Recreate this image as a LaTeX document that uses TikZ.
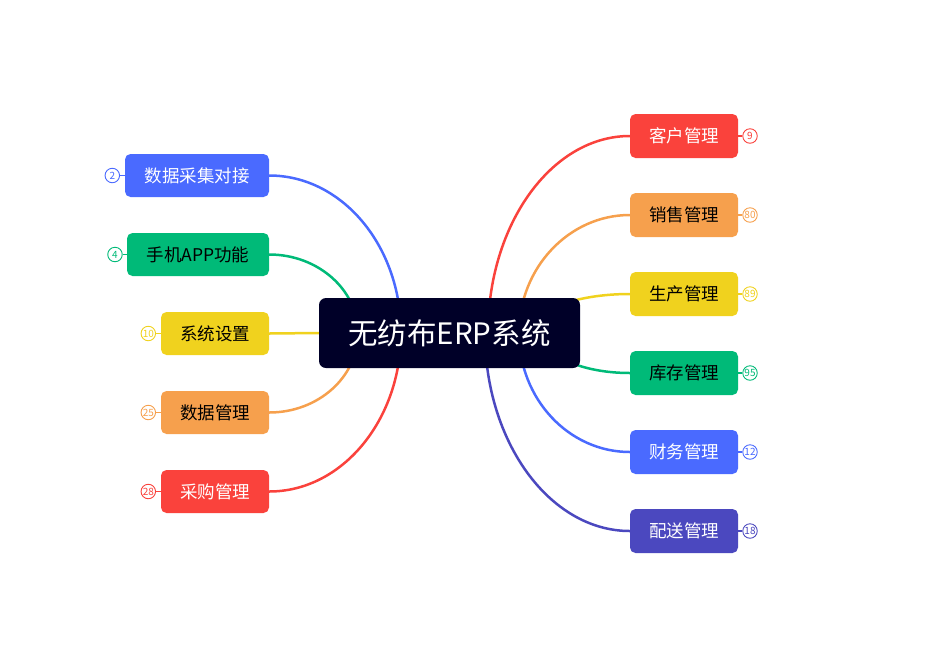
\documentclass[tikz,border=0pt]{standalone}
\usepackage{fontspec}
\setmainfont{Noto Sans CJK SC}
\definecolor{cred}{HTML}{FA423C}
\definecolor{corange}{HTML}{F6A04D}
\definecolor{cyellow}{HTML}{F0D21E}
\definecolor{cgreen}{HTML}{00BA78}
\definecolor{cblue}{HTML}{4A6AFF}
\definecolor{cpurple}{HTML}{4B48BF}
\definecolor{cnavy}{HTML}{000028}
\tikzset{
  topic/.style={rectangle, rounded corners=5.5pt, minimum height=44pt, inner sep=0pt,
    font=\fontsize{17.5}{19}\selectfont},
  rtopic/.style={topic, minimum width=108pt},
  central/.style={rectangle, rounded corners=7pt, fill=cnavy, text=white, minimum width=261pt,
    minimum height=70pt, inner sep=0pt, font=\fontsize{29.5}{32}\selectfont},
  link/.style={line width=2.5pt},
  badge/.style={circle, draw, fill=white, line width=0.9pt, minimum size=14.5pt, inner sep=0pt,
    font=\fontsize{10}{10}\selectfont},
  stub/.style={line width=1.6pt}
}
\begin{document}
\begin{tikzpicture}[x=1pt, y=-1pt]
\useasboundingbox (0,0) rectangle (944,646);
% start coordinates (hidden below the central node)
\coordinate (sr1) at (488,333);
\coordinate (sr2) at (519,333);
\coordinate (sr3) at (530,333);
\coordinate (sr4) at (542,333);
\coordinate (sr5) at (519,333);
\coordinate (sr6) at (485,333);
\coordinate (sl1) at (401,333);
\coordinate (sl2) at (358,333);
\coordinate (sl4) at (358,333);
\coordinate (sl5) at (401,333);
% right topics
\node[rtopic, fill=cred, text=white] (r1) at (684,136) {客户管理};
\node[rtopic, fill=corange, text=black] (r2) at (684,215) {销售管理};
\node[rtopic, fill=cyellow, text=black] (r3) at (684,294) {生产管理};
\node[rtopic, fill=cgreen, text=black] (r4) at (684,373) {库存管理};
\node[rtopic, fill=cblue, text=white] (r5) at (684,452) {财务管理};
\node[rtopic, fill=cpurple, text=white] (r6) at (684,531) {配送管理};
% left topics
\node[topic, minimum width=144pt, minimum height=43pt, fill=cblue, text=white] (l1) at (197,175.5) {数据采集对接};
\node[topic, minimum width=142pt, minimum height=43pt, fill=cgreen, text=black] (l2) at (198,254.5) {手机APP功能};
\node[rtopic, minimum height=43pt, fill=cyellow, text=black] (l3) at (215,333.5) {系统设置};
\node[rtopic, minimum height=43pt, fill=corange, text=black] (l4) at (215,412.5) {数据管理};
\node[rtopic, minimum height=43pt, fill=cred, text=white] (l5) at (215,491.5) {采购管理};
% connectors right
\draw[link, cred] (sr1) .. controls +(0,-109) and +(-78,0) .. (r1.west);
\draw[link, corange] (sr2) .. controls +(0,-65) and +(-61,0) .. (r2.west);
\draw[link, cyellow] (sr3) .. controls +(0,-22) and +(-55,0) .. (r3.west);
\draw[link, cgreen] (sr4) .. controls +(0,22) and +(-49,0) .. (r4.west);
\draw[link, cblue] (sr5) .. controls +(0,66) and +(-61,0) .. (r5.west);
\draw[link, cpurple] (sr6) .. controls +(0,109) and +(-80,0) .. (r6.west);
% connectors left
\draw[link, cblue] (sl1) .. controls +(0,-87) and +(73,0) .. (l1.east);
\draw[link, cgreen] (sl2) .. controls +(0,-43) and +(49,0) .. (l2.east);
\draw[link, corange] (sl4) .. controls +(0,44) and +(49,0) .. (l4.east);
\draw[link, cred] (sl5) .. controls +(0,87) and +(73,0) .. (l5.east);
% central topic
\node[central] (c) at (449.5,333) {无纺布ERP系统};
\draw[link, cyellow] (c.west) -- (l3.east);
% badges right
\node[badge, draw=cred, text=cred] (b1) at (750,136) {9};
\node[badge, draw=corange, text=corange] (b2) at (750,215) {80};
\node[badge, draw=cyellow, text=cyellow] (b3) at (750,294) {89};
\node[badge, draw=cgreen, text=cgreen] (b4) at (750,373) {95};
\node[badge, draw=cblue, text=cblue] (b5) at (750,452) {12};
\node[badge, draw=cpurple, text=cpurple] (b6) at (750,531) {18};
\draw[stub, cred] (r1.east) -- (b1);
\draw[stub, corange] (r2.east) -- (b2);
\draw[stub, cyellow] (r3.east) -- (b3);
\draw[stub, cgreen] (r4.east) -- (b4);
\draw[stub, cblue] (r5.east) -- (b5);
\draw[stub, cpurple] (r6.east) -- (b6);
% badges left
\node[badge, draw=cblue, text=cblue] (d1) at (112.3,175.5) {2};
\node[badge, draw=cgreen, text=cgreen] (d2) at (115,254.5) {4};
\node[badge, draw=cyellow, text=cyellow] (d3) at (148.3,333.5) {10};
\node[badge, draw=corange, text=corange] (d4) at (148.3,412.5) {25};
\node[badge, draw=cred, text=cred] (d5) at (148.3,491.5) {28};
\draw[stub, cblue] (l1.west) -- (d1);
\draw[stub, cgreen] (l2.west) -- (d2);
\draw[stub, cyellow] (l3.west) -- (d3);
\draw[stub, corange] (l4.west) -- (d4);
\draw[stub, cred] (l5.west) -- (d5);
\end{tikzpicture}
\end{document}
